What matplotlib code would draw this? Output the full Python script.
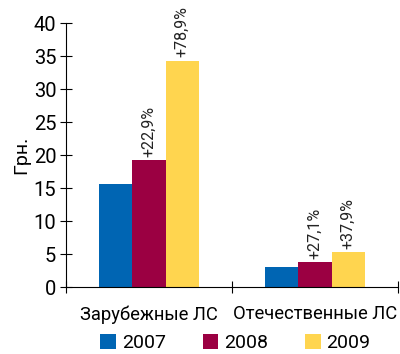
import numpy as np
import matplotlib.pyplot as plt

categories = ['Зарубежные ЛС', 'Отечественные ЛС']
years = ['2007', '2008', '2009']
values = {
    '2007': [15.6, 3.0],
    '2008': [19.2, 3.8],
    '2009': [34.3, 5.25],
}
growth = {
    '2008': ['+22,9%', '+27,1%'],
    '2009': ['+78,9%', '+37,9%'],
}
colors = ['#0065b3', '#9b0042', '#ffd54f']

plt.rcParams['font.family'] = ['Roboto', 'DejaVu Sans']

fig = plt.figure(figsize=(4, 3.54), dpi=100)
ax = fig.add_axes([0.165, 0.189, 0.83, 0.746])

x = np.arange(len(categories))
w = 0.2
for i, yr in enumerate(years):
    pos = x + (i - 1) * w
    ax.bar(pos, values[yr], width=w, color=colors[i], label=yr)
    if yr in growth:
        for px, v, t in zip(pos, values[yr], growth[yr]):
            ax.text(px, v + 0.5, t, rotation=90, ha='center', va='bottom',
                    fontsize=11.5, color='#222222')

ax.set_xlim(-0.5, 1.5)
ax.set_ylim(0, 40)
ax.set_yticks(range(0, 41, 5))
ax.set_xticks([-0.5, 0.5, 1.5])
ax.set_xticklabels([])
ax.set_xticks(x, minor=True)
ax.set_xticklabels(categories, minor=True)
ax.tick_params(axis='x', which='minor', length=0, labelsize=13.2, pad=13)
ax.tick_params(axis='x', which='major', direction='inout', length=8)
ax.tick_params(axis='y', direction='inout', length=8, labelsize=14.5, pad=3)
ax.set_ylabel('Грн.', fontsize=14, labelpad=2)
for s in ['top', 'right']:
    ax.spines[s].set_visible(False)

ax.legend(loc='upper center', bbox_to_anchor=(0.51, -0.11), ncol=3,
          frameon=False, fontsize=14, handlelength=0.8, handleheight=0.8,
          handletextpad=0.3, columnspacing=1.9)

fig.savefig('out.png', dpi=100)
